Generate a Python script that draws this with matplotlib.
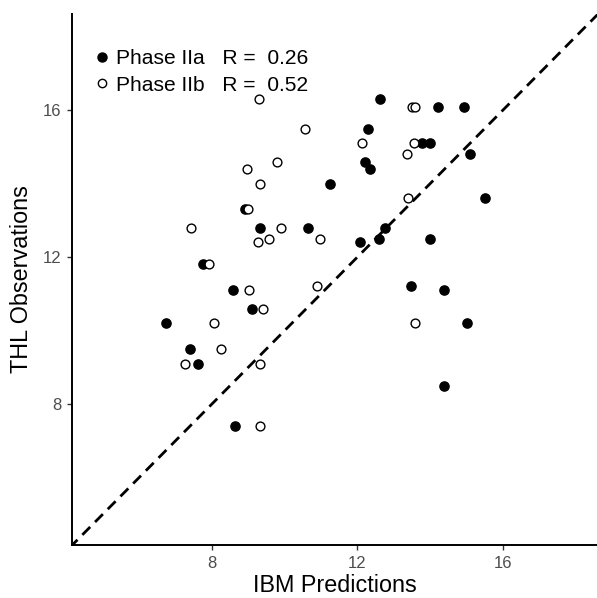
import matplotlib
matplotlib.use("Agg")
import matplotlib.pyplot as plt
from matplotlib.lines import Line2D

plt.rcParams['font.family'] = ['Liberation Sans', 'DejaVu Sans']

# Phase IIa (filled)
ibm_a = [12.63, 14.21, 14.95, 12.28, 13.78, 14.01, 15.10, 12.20, 12.34, 11.25,
         15.52, 8.90, 9.31, 10.64, 12.76, 12.06, 12.59, 14.00, 7.75, 8.58,
         13.47, 14.39, 9.09, 6.73, 15.01, 7.40, 7.60, 14.39, 8.62]
thl_a = [16.3, 16.1, 16.1, 15.5, 15.1, 15.1, 14.8, 14.6, 14.4, 14.0,
         13.6, 13.3, 12.8, 12.8, 12.8, 12.4, 12.5, 12.5, 11.8, 11.1,
         11.2, 11.1, 10.59, 10.2, 10.2, 9.49, 9.09, 8.49, 7.39]
# Phase IIb (open)
ibm_b = [9.29, 13.50, 13.59, 10.55, 12.14, 13.56, 13.37, 9.78, 8.96, 9.33,
         13.40, 8.99, 7.41, 9.89, 9.27, 9.56, 10.96, 7.92, 9.01, 10.90,
         9.41, 8.04, 13.59, 8.25, 7.25, 9.31, 9.33]
thl_b = [16.3, 16.1, 16.1, 15.5, 15.1, 15.1, 14.8, 14.6, 14.4, 14.0,
         13.6, 13.3, 12.8, 12.8, 12.4, 12.5, 12.5, 11.8, 11.1, 11.2,
         10.59, 10.2, 10.2, 9.49, 9.09, 9.09, 7.39]

labels = ["Phase IIa   R =  0.26", "Phase IIb   R =  0.52"]
ticks = [8, 12, 16]

fig = plt.figure(figsize=(5.97, 5.98), dpi=100)
ax = fig.add_axes([72.3 / 597, 1 - 545 / 598, 1 - 72.3 / 597, (545 - 14) / 598])
xlim = (4.15, 18.6)
ylim = (4.15, 18.63)

ax.plot([0, 30], [0, 30], color='black', lw=2.0, linestyle=(0, (4, 2.5)), zorder=1)
ax.scatter(ibm_a, thl_a, s=44, facecolor='black', edgecolor='black', linewidth=1.0, zorder=3)
ax.scatter(ibm_b, thl_b, s=40, facecolor='white', edgecolor='black', linewidth=1.0, zorder=3)

ax.set_xlim(*xlim)
ax.set_ylim(*ylim)
ax.set_xticks(ticks)
ax.set_yticks(ticks)
for s in ['top', 'right']:
    ax.spines[s].set_visible(False)
for s in ['left', 'bottom']:
    ax.spines[s].set_linewidth(1.4)
    ax.spines[s].set_color('black')
ax.tick_params(axis='both', length=3.5, width=1.0, color='#333333', labelsize=12,
               labelcolor='#4D4D4D', pad=4.5)
ax.set_xlabel("IBM Predictions", fontsize=16.8, color='black', labelpad=2)
ax.set_ylabel("THL Observations", fontsize=16.8, color='black', labelpad=7)

handles = [Line2D([], [], marker='o', linestyle='none', markersize=6.5,
                  markerfacecolor='black', markeredgecolor='black'),
           Line2D([], [], marker='o', linestyle='none', markersize=6.0,
                  markerfacecolor='white', markeredgecolor='black', markeredgewidth=1.0)]
leg = ax.legend(handles, labels, loc='upper left', bbox_to_anchor=(96 / 597, 1 - 49 / 598),
                bbox_transform=fig.transFigure, frameon=False, fontsize=15.1,
                handlelength=0.6, handletextpad=0.34, labelspacing=0.37, borderpad=0,
                borderaxespad=0)

fig.savefig("out.png", dpi=100)
